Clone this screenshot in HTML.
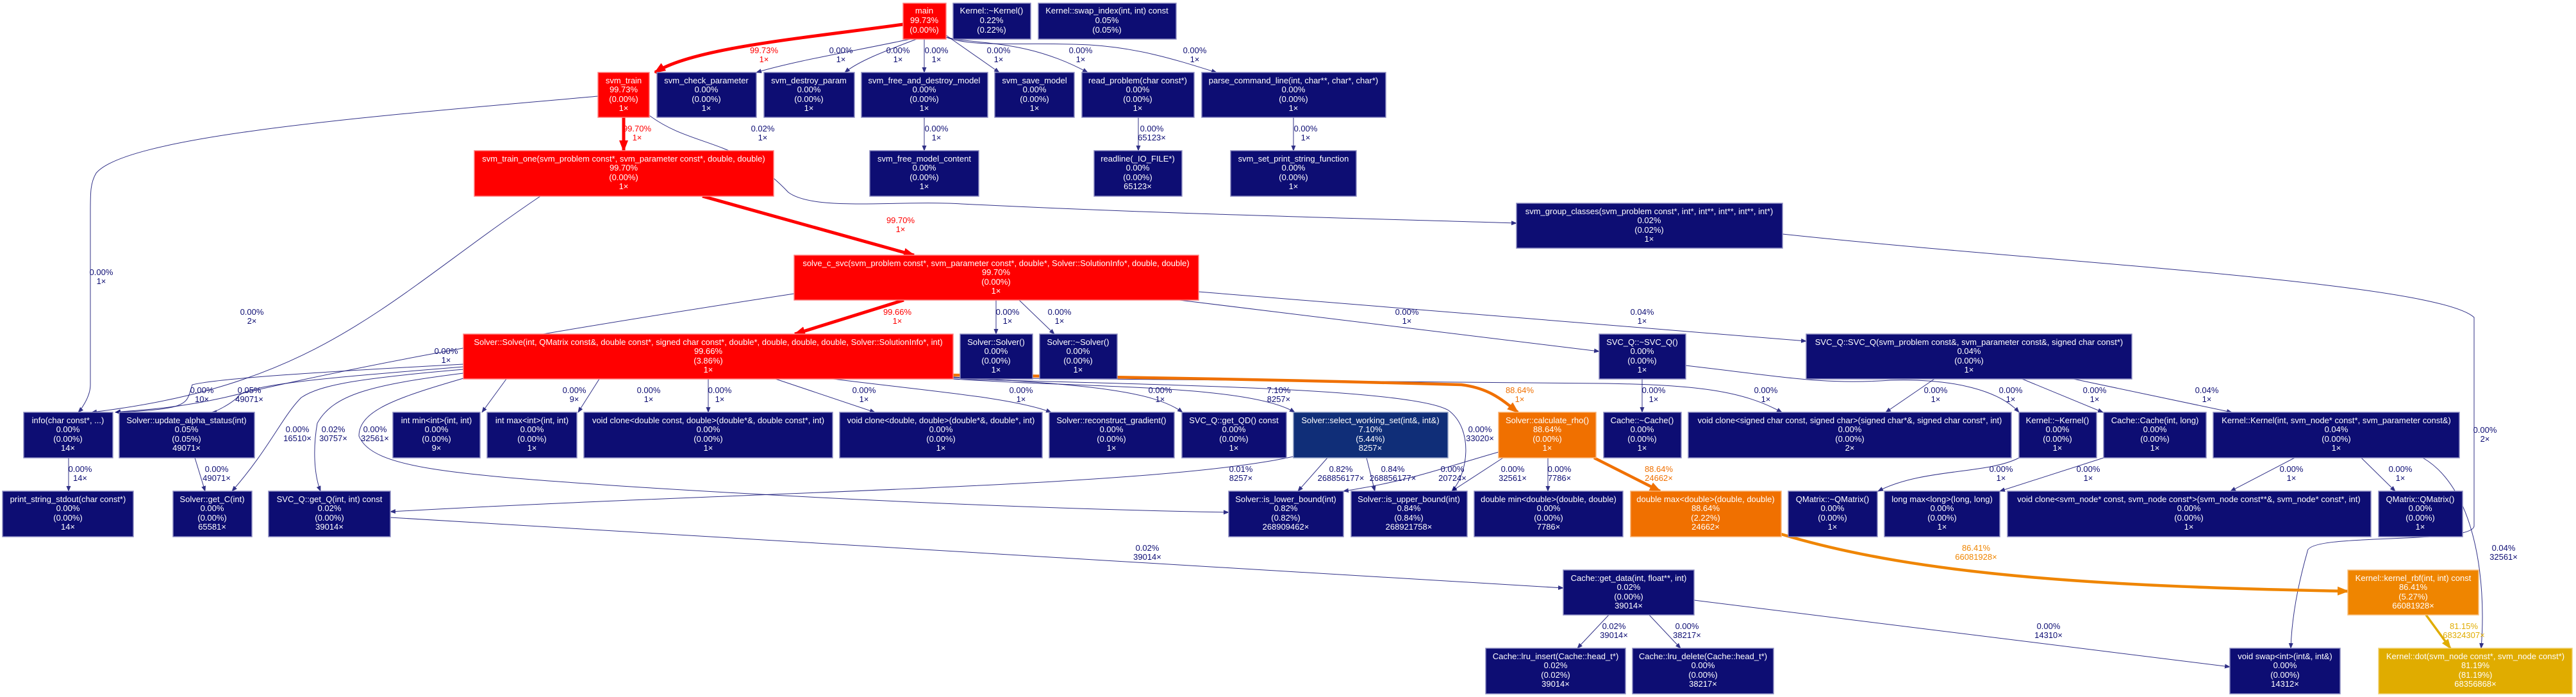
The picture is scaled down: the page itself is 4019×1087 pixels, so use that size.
<!DOCTYPE html>
<html><head><meta charset="utf-8"><style>
html,body{margin:0;padding:0;background:#fff;}
svg{display:block;}
text{font-family:"Liberation Sans",Arial,sans-serif;font-size:13px;}
.n text{fill:#fff;text-anchor:middle;}
.nv{fill:#0d0d73;stroke:#8a8ac0;stroke-width:1.5;}
.rd{fill:#ff0000;stroke:#ff8080;stroke-width:1.5;}
.or{fill:#f07000;stroke:#f8b070;stroke-width:1.5;}
.o2{fill:#ef8500;stroke:#f8c080;stroke-width:1.5;}
.ye{fill:#e0ac00;stroke:#f0d070;stroke-width:1.5;}
.sw{fill:#102e78;stroke:#8a9ac0;stroke-width:1.5;}
.e{fill:none;stroke:#0d0d73;stroke-width:1;opacity:.85;}
.er{fill:none;stroke:#ff0000;stroke-width:5;}
.eo{fill:none;stroke:#f07000;stroke-width:4.5;}
.eo2{fill:none;stroke:#ef8500;stroke-width:4.5;}
.ey{fill:none;stroke:#e0ac00;stroke-width:3.5;}
.l text{text-anchor:middle;fill:#0d0d73;}
.l .r{fill:#ff0000;} .l .o{fill:#f07000;} .l .o2t{fill:#ef8500;} .l .y{fill:#e0ac00;}
</style></head><body>
<svg width="4019" height="1087" viewBox="0 0 4019 1087" xmlns="http://www.w3.org/2000/svg">
<defs>
<marker id="an" markerUnits="userSpaceOnUse" markerWidth="9" markerHeight="7" refX="8" refY="3.5" orient="auto"><path d="M0,0 L9,3.5 L0,7 z" fill="#0d0d73"/></marker>
<marker id="ar" markerUnits="userSpaceOnUse" markerWidth="18" markerHeight="14" refX="16" refY="7" orient="auto"><path d="M0,0 L18,7 L0,14 z" fill="#ff0000"/></marker>
<marker id="ao" markerUnits="userSpaceOnUse" markerWidth="18" markerHeight="14" refX="16" refY="7" orient="auto"><path d="M0,0 L18,7 L0,14 z" fill="#f07000"/></marker>
<marker id="ao2" markerUnits="userSpaceOnUse" markerWidth="18" markerHeight="14" refX="16" refY="7" orient="auto"><path d="M0,0 L18,7 L0,14 z" fill="#ef8500"/></marker>
<marker id="ay" markerUnits="userSpaceOnUse" markerWidth="16" markerHeight="12" refX="14" refY="6" orient="auto"><path d="M0,0 L16,6 L0,12 z" fill="#e0ac00"/></marker>
</defs>

<!-- EDGES -->
<g>
<path class="er" marker-end="url(#ar)" d="M1409,38 C1250,60 1080,75 1022,113"/>
<path class="e" marker-end="url(#an)" d="M1420,61 C1330,80 1240,95 1180,113"/>
<path class="e" marker-end="url(#an)" d="M1430,61 C1380,80 1340,95 1318,113"/>
<path class="e" marker-end="url(#an)" d="M1442,61 L1442,113"/>
<path class="e" marker-end="url(#an)" d="M1476,55 L1559,113"/>
<path class="e" marker-end="url(#an)" d="M1476,58 C1520,70 1600,60 1697,113"/>
<path class="e" marker-end="url(#an)" d="M1476,58 C1520,75 1600,65 1700,70 C1780,75 1840,95 1898,113"/>
<path class="e" marker-end="url(#an)" d="M1442,183 L1442,235"/>
<path class="e" marker-end="url(#an)" d="M1776,183 L1776,235"/>
<path class="e" marker-end="url(#an)" d="M2018,183 L2018,235"/>
<path class="er" marker-end="url(#ar)" d="M973,183 L973,235"/>
<path class="e" marker-end="url(#an)" d="M933,150 C600,180 200,210 150,270 C141,285 141,300 141,330 L141,600 C141,620 125,640 122,643"/>
<path class="e" marker-end="url(#an)" d="M1013,180 C1080,230 1150,215 1230,300 C1270,330 1400,312 1500,318 C1800,333 2100,340 2366,348"/>
<path class="e" marker-end="url(#an)" d="M843,306 C600,470 500,600 143,643"/>
<path class="er" marker-end="url(#ar)" d="M1096,306 L1426,398"/>
<path class="er" marker-end="url(#ar)" d="M1410,468 L1240,521"/>
<path class="e" marker-end="url(#an)" d="M1239,458 C900,510 600,560 350,620 C260,640 200,640 180,643"/>
<path class="e" marker-end="url(#an)" d="M1554,468 L1554,521"/>
<path class="e" marker-end="url(#an)" d="M1590,468 L1645,521"/>
<path class="e" marker-end="url(#an)" d="M1840,468 L2495,548"/>
<path class="e" marker-end="url(#an)" d="M1870,455 L2818,532"/>
<path class="e" marker-end="url(#an)" d="M2781,365 C3200,410 3800,440 3860,495 L3860,820 C3860,850 3600,830 3600,860 C3580,930 3575,980 3574,1011"/>
<!-- Solve outputs -->
<path class="e" marker-end="url(#an)" d="M723,568 C500,580 340,590 300,600 C290,630 300,638 180,643"/>
<path class="e" marker-end="url(#an)" d="M723,572 C500,590 380,600 370,620 C360,630 335,643 330,643"/>
<path class="e" marker-end="url(#an)" d="M723,576 C560,590 500,600 470,620 C440,650 420,700 362,766"/>
<path class="e" marker-end="url(#an)" d="M723,582 C580,600 520,615 495,660 C488,700 490,740 500,766"/>
<path class="e" marker-end="url(#an)" d="M723,590 C620,620 560,640 560,680 C580,730 700,740 1000,760 C1400,785 1700,795 1917,799"/>
<path class="e" marker-end="url(#an)" d="M790,591 L752,643"/>
<path class="e" marker-end="url(#an)" d="M935,591 L902,643"/>
<path class="e" marker-end="url(#an)" d="M1105,591 L1105,643"/>
<path class="e" marker-end="url(#an)" d="M1210,591 L1365,643"/>
<path class="e" marker-end="url(#an)" d="M1300,591 C1450,610 1580,620 1640,643"/>
<path class="e" marker-end="url(#an)" d="M1487,588 C1700,600 1800,610 1845,643"/>
<path class="e" marker-end="url(#an)" d="M1487,591 C1700,605 1950,600 2020,643"/>
<path class="e" marker-end="url(#an)" d="M1487,591 C1800,600 2200,605 2260,640 C2300,670 2290,740 2265,766"/>
<path class="e" marker-end="url(#an)" d="M1487,589 C1900,593 2300,595 2500,598 C2650,600 2720,610 2780,643"/>
<path class="eo" marker-end="url(#ao)" d="M1487,585 C1800,588 2100,595 2280,600 C2320,605 2340,620 2368,643"/>
<path class="e" marker-end="url(#an)" d="M2562,591 L2562,643"/>
<path class="e" marker-end="url(#an)" d="M3018,591 L2942,643"/>
<path class="e" marker-end="url(#an)" d="M2630,570 C2800,590 2850,600 2950,593 C3050,590 3120,610 3150,643"/>
<path class="e" marker-end="url(#an)" d="M3155,591 L3281,643"/>
<path class="e" marker-end="url(#an)" d="M3235,591 L3482,643"/>
<path class="e" marker-end="url(#an)" d="M3150,714 C3100,740 3000,730 2930,766"/>
<path class="e" marker-end="url(#an)" d="M3282,714 L3120,766"/>
<path class="e" marker-end="url(#an)" d="M3580,714 L3480,766"/>
<path class="e" marker-end="url(#an)" d="M3684,714 L3737,766"/>
<path class="e" marker-end="url(#an)" d="M3780,714 C3860,760 3880,900 3871,1011"/>
<path class="eo2" marker-end="url(#ao2)" d="M2779,833 C3000,900 3300,915 3663,922"/>
<path class="ey" marker-end="url(#ay)" d="M3785,959 L3823,1011"/>
<path class="e" marker-end="url(#an)" d="M2643,936 L3479,1040"/>
<path class="e" marker-end="url(#an)" d="M2510,959 L2461,1011"/>
<path class="e" marker-end="url(#an)" d="M2573,959 L2622,1011"/>
<path class="e" marker-end="url(#an)" d="M2338,705 C2250,730 2200,750 2096,766"/>
<path class="e" marker-end="url(#an)" d="M2345,714 L2265,766"/>
<path class="e" marker-end="url(#an)" d="M2415,714 L2415,766"/>
<path class="eo" marker-end="url(#ao)" d="M2487,714 L2590,766"/>
<path class="e" marker-end="url(#an)" d="M2071,714 L2025,766"/>
<path class="e" marker-end="url(#an)" d="M2132,714 L2145,766"/>
<path class="e" marker-end="url(#an)" d="M2018,712 C1800,760 1200,765 609,798"/>
<path class="e" marker-end="url(#an)" d="M609,807 L2439,917"/>
<path class="e" marker-end="url(#an)" d="M304,714 L320,766"/>
<path class="e" marker-end="url(#an)" d="M107,714 L107,766"/>
</g>

<!-- EDGE LABELS -->
<g class="l">
<text class="r" x="1192" y="83">99.73%</text><text class="r" x="1192" y="97">1×</text>
<text x="1312" y="83">0.00%</text><text x="1312" y="97">1×</text>
<text x="1401" y="83">0.00%</text><text x="1401" y="97">1×</text>
<text x="1461" y="83">0.00%</text><text x="1461" y="97">1×</text>
<text x="1558" y="83">0.00%</text><text x="1558" y="97">1×</text>
<text x="1686" y="83">0.00%</text><text x="1686" y="97">1×</text>
<text x="1864" y="83">0.00%</text><text x="1864" y="97">1×</text>
<text class="r" x="994" y="205">99.70%</text><text class="r" x="994" y="219">1×</text>
<text x="1190" y="205">0.02%</text><text x="1190" y="219">1×</text>
<text x="1461" y="205">0.00%</text><text x="1461" y="219">1×</text>
<text x="1797" y="205">0.00%</text><text x="1797" y="219">65123×</text>
<text x="2037" y="205">0.00%</text><text x="2037" y="219">1×</text>
<text class="r" x="1405" y="348">99.70%</text><text class="r" x="1405" y="362">1×</text>
<text x="158" y="429">0.00%</text><text x="158" y="443">1×</text>
<text x="393" y="491">0.00%</text><text x="393" y="505">2×</text>
<text class="r" x="1400" y="491">99.66%</text><text class="r" x="1400" y="505">1×</text>
<text x="1572" y="491">0.00%</text><text x="1572" y="505">1×</text>
<text x="1653" y="491">0.00%</text><text x="1653" y="505">1×</text>
<text x="2195" y="491">0.00%</text><text x="2195" y="505">1×</text>
<text x="2562" y="491">0.04%</text><text x="2562" y="505">1×</text>
<text x="696" y="552">0.00%</text><text x="696" y="566">1×</text>
<text x="315" y="613">0.00%</text><text x="315" y="627">10×</text>
<text x="389" y="613">0.05%</text><text x="389" y="627">49071×</text>
<text x="896" y="613">0.00%</text><text x="896" y="627">9×</text>
<text x="1012" y="613">0.00%</text><text x="1012" y="627">1×</text>
<text x="1123" y="613">0.00%</text><text x="1123" y="627">1×</text>
<text x="1348" y="613">0.00%</text><text x="1348" y="627">1×</text>
<text x="1593" y="613">0.00%</text><text x="1593" y="627">1×</text>
<text x="1810" y="613">0.00%</text><text x="1810" y="627">1×</text>
<text x="1995" y="613">7.10%</text><text x="1995" y="627">8257×</text>
<text class="o" x="2371" y="613">88.64%</text><text class="o" x="2371" y="627">1×</text>
<text x="2580" y="613">0.00%</text><text x="2580" y="627">1×</text>
<text x="2755" y="613">0.00%</text><text x="2755" y="627">1×</text>
<text x="3020" y="613">0.00%</text><text x="3020" y="627">1×</text>
<text x="3137" y="613">0.00%</text><text x="3137" y="627">1×</text>
<text x="3268" y="613">0.00%</text><text x="3268" y="627">1×</text>
<text x="3443" y="613">0.04%</text><text x="3443" y="627">1×</text>
<text x="464" y="674">0.00%</text><text x="464" y="688">16510×</text>
<text x="520" y="674">0.02%</text><text x="520" y="688">30757×</text>
<text x="585" y="674">0.00%</text><text x="585" y="688">32561×</text>
<text x="2309" y="674">0.00%</text><text x="2309" y="688">33020×</text>
<text x="3877" y="675">0.00%</text><text x="3877" y="689">2×</text>
<text x="125" y="736">0.00%</text><text x="125" y="750">14×</text>
<text x="338" y="736">0.00%</text><text x="338" y="750">49071×</text>
<text x="1936" y="736">0.01%</text><text x="1936" y="750">8257×</text>
<text x="2092" y="736">0.82%</text><text x="2092" y="750">268856177×</text>
<text x="2173" y="736">0.84%</text><text x="2173" y="750">268856177×</text>
<text x="2266" y="736">0.00%</text><text x="2266" y="750">20724×</text>
<text x="2360" y="736">0.00%</text><text x="2360" y="750">32561×</text>
<text x="2433" y="736">0.00%</text><text x="2433" y="750">7786×</text>
<text class="o" x="2588" y="736">88.64%</text><text class="o" x="2588" y="750">24662×</text>
<text x="3122" y="736">0.00%</text><text x="3122" y="750">1×</text>
<text x="3258" y="736">0.00%</text><text x="3258" y="750">1×</text>
<text x="3575" y="736">0.00%</text><text x="3575" y="750">1×</text>
<text x="3745" y="736">0.00%</text><text x="3745" y="750">1×</text>
<text x="1790" y="859">0.02%</text><text x="1790" y="873">39014×</text>
<text class="o2t" x="3083" y="859">86.41%</text><text class="o2t" x="3083" y="873">66081928×</text>
<text x="3906" y="859">0.04%</text><text x="3906" y="873">32561×</text>
<text x="2518" y="981">0.02%</text><text x="2518" y="995">39014×</text>
<text x="2632" y="981">0.00%</text><text x="2632" y="995">38217×</text>
<text x="3196" y="981">0.00%</text><text x="3196" y="995">14310×</text>
<text class="y" x="3844" y="981">81.15%</text><text class="y" x="3844" y="995">68324307×</text>
</g>

<!-- NODES -->
<g class="n">
<rect class="rd" x="1409" y="5" width="67" height="56"/><text x="1442" y="21">main</text><text x="1442" y="36">99.73%</text><text x="1442" y="51">(0.00%)</text>
<rect class="nv" x="1487" y="5" width="121" height="56"/><text x="1547" y="21">Kernel::~Kernel()</text><text x="1547" y="36">0.22%</text><text x="1547" y="51">(0.22%)</text>
<rect class="nv" x="1620" y="5" width="215" height="56"/><text x="1727" y="21">Kernel::swap_index(int, int) const</text><text x="1727" y="36">0.05%</text><text x="1727" y="51">(0.05%)</text>

<rect class="rd" x="933" y="113" width="80" height="70"/><text x="973" y="130">svm_train</text><text x="973" y="144">99.73%</text><text x="973" y="159">(0.00%)</text><text x="973" y="173">1×</text>
<rect class="nv" x="1025" y="113" width="155" height="70"/><text x="1102" y="130">svm_check_parameter</text><text x="1102" y="144">0.00%</text><text x="1102" y="159">(0.00%)</text><text x="1102" y="173">1×</text>
<rect class="nv" x="1192" y="113" width="141" height="70"/><text x="1262" y="130">svm_destroy_param</text><text x="1262" y="144">0.00%</text><text x="1262" y="159">(0.00%)</text><text x="1262" y="173">1×</text>
<rect class="nv" x="1344" y="113" width="197" height="70"/><text x="1442" y="130">svm_free_and_destroy_model</text><text x="1442" y="144">0.00%</text><text x="1442" y="159">(0.00%)</text><text x="1442" y="173">1×</text>
<rect class="nv" x="1552" y="113" width="124" height="70"/><text x="1614" y="130">svm_save_model</text><text x="1614" y="144">0.00%</text><text x="1614" y="159">(0.00%)</text><text x="1614" y="173">1×</text>
<rect class="nv" x="1688" y="113" width="175" height="70"/><text x="1775" y="130">read_problem(char const*)</text><text x="1775" y="144">0.00%</text><text x="1775" y="159">(0.00%)</text><text x="1775" y="173">1×</text>
<rect class="nv" x="1875" y="113" width="287" height="70"/><text x="2018" y="130">parse_command_line(int, char**, char*, char*)</text><text x="2018" y="144">0.00%</text><text x="2018" y="159">(0.00%)</text><text x="2018" y="173">1×</text>

<rect class="rd" x="740" y="235" width="467" height="71"/><text x="973" y="252">svm_train_one(svm_problem const*, svm_parameter const*, double, double)</text><text x="973" y="266">99.70%</text><text x="973" y="281">(0.00%)</text><text x="973" y="295">1×</text>
<rect class="nv" x="1357" y="235" width="170" height="71"/><text x="1442" y="252">svm_free_model_content</text><text x="1442" y="266">0.00%</text><text x="1442" y="281">(0.00%)</text><text x="1442" y="295">1×</text>
<rect class="nv" x="1707" y="235" width="137" height="71"/><text x="1775" y="252">readline(_IO_FILE*)</text><text x="1775" y="266">0.00%</text><text x="1775" y="281">(0.00%)</text><text x="1775" y="295">65123×</text>
<rect class="nv" x="1920" y="235" width="196" height="71"/><text x="2018" y="252">svm_set_print_string_function</text><text x="2018" y="266">0.00%</text><text x="2018" y="281">(0.00%)</text><text x="2018" y="295">1×</text>

<rect class="nv" x="2366" y="317" width="415" height="70"/><text x="2573" y="334">svm_group_classes(svm_problem const*, int*, int**, int**, int**, int*)</text><text x="2573" y="348">0.02%</text><text x="2573" y="363">(0.02%)</text><text x="2573" y="377">1×</text>

<rect class="rd" x="1239" y="398" width="631" height="70"/><text x="1554" y="415">solve_c_svc(svm_problem const*, svm_parameter const*, double*, Solver::SolutionInfo*, double, double)</text><text x="1554" y="429">99.70%</text><text x="1554" y="444">(0.00%)</text><text x="1554" y="458">1×</text>

<rect class="rd" x="723" y="521" width="764" height="70"/><text x="1105" y="538">Solver::Solve(int, QMatrix const&amp;, double const*, signed char const*, double*, double, double, double, Solver::SolutionInfo*, int)</text><text x="1105" y="552">99.66%</text><text x="1105" y="567">(3.86%)</text><text x="1105" y="581">1×</text>
<rect class="nv" x="1498" y="521" width="113" height="70"/><text x="1554" y="538">Solver::Solver()</text><text x="1554" y="552">0.00%</text><text x="1554" y="567">(0.00%)</text><text x="1554" y="581">1×</text>
<rect class="nv" x="1622" y="521" width="121" height="70"/><text x="1682" y="538">Solver::~Solver()</text><text x="1682" y="552">0.00%</text><text x="1682" y="567">(0.00%)</text><text x="1682" y="581">1×</text>
<rect class="nv" x="2495" y="521" width="135" height="70"/><text x="2562" y="538">SVC_Q::~SVC_Q()</text><text x="2562" y="552">0.00%</text><text x="2562" y="567">(0.00%)</text><text x="2562" y="581">1×</text>
<rect class="nv" x="2818" y="521" width="508" height="70"/><text x="3072" y="538">SVC_Q::SVC_Q(svm_problem const&amp;, svm_parameter const&amp;, signed char const*)</text><text x="3072" y="552">0.04%</text><text x="3072" y="567">(0.00%)</text><text x="3072" y="581">1×</text>

<rect class="nv" x="37" y="643" width="139" height="71"/><text x="106" y="660">info(char const*, ...)</text><text x="106" y="674">0.00%</text><text x="106" y="689">(0.00%)</text><text x="106" y="703">14×</text>
<rect class="nv" x="186" y="643" width="211" height="71"/><text x="291" y="660">Solver::update_alpha_status(int)</text><text x="291" y="674">0.05%</text><text x="291" y="689">(0.05%)</text><text x="291" y="703">49071×</text>
<rect class="nv" x="613" y="643" width="136" height="71"/><text x="681" y="660">int min&lt;int&gt;(int, int)</text><text x="681" y="674">0.00%</text><text x="681" y="689">(0.00%)</text><text x="681" y="703">9×</text>
<rect class="nv" x="760" y="643" width="140" height="71"/><text x="830" y="660">int max&lt;int&gt;(int, int)</text><text x="830" y="674">0.00%</text><text x="830" y="689">(0.00%)</text><text x="830" y="703">1×</text>
<rect class="nv" x="911" y="643" width="388" height="71"/><text x="1105" y="660">void clone&lt;double const, double&gt;(double*&amp;, double const*, int)</text><text x="1105" y="674">0.00%</text><text x="1105" y="689">(0.00%)</text><text x="1105" y="703">1×</text>
<rect class="nv" x="1310" y="643" width="316" height="71"/><text x="1468" y="660">void clone&lt;double, double&gt;(double*&amp;, double*, int)</text><text x="1468" y="674">0.00%</text><text x="1468" y="689">(0.00%)</text><text x="1468" y="703">1×</text>
<rect class="nv" x="1637" y="643" width="195" height="71"/><text x="1734" y="660">Solver::reconstruct_gradient()</text><text x="1734" y="674">0.00%</text><text x="1734" y="689">(0.00%)</text><text x="1734" y="703">1×</text>
<rect class="nv" x="1844" y="643" width="163" height="71"/><text x="1925" y="660">SVC_Q::get_QD() const</text><text x="1925" y="674">0.00%</text><text x="1925" y="689">(0.00%)</text><text x="1925" y="703">1×</text>
<rect class="sw" x="2018" y="643" width="241" height="71"/><text x="2138" y="660">Solver::select_working_set(int&amp;, int&amp;)</text><text x="2138" y="674">7.10%</text><text x="2138" y="689">(5.44%)</text><text x="2138" y="703">8257×</text>
<rect class="or" x="2338" y="643" width="152" height="71"/><text x="2414" y="660">Solver::calculate_rho()</text><text x="2414" y="674">88.64%</text><text x="2414" y="689">(0.00%)</text><text x="2414" y="703">1×</text>
<rect class="nv" x="2502" y="643" width="121" height="71"/><text x="2562" y="660">Cache::~Cache()</text><text x="2562" y="674">0.00%</text><text x="2562" y="689">(0.00%)</text><text x="2562" y="703">1×</text>
<rect class="nv" x="2634" y="643" width="504" height="71"/><text x="2886" y="660">void clone&lt;signed char const, signed char&gt;(signed char*&amp;, signed char const*, int)</text><text x="2886" y="674">0.00%</text><text x="2886" y="689">(0.00%)</text><text x="2886" y="703">2×</text>
<rect class="nv" x="3150" y="643" width="121" height="71"/><text x="3210" y="660">Kernel::~Kernel()</text><text x="3210" y="674">0.00%</text><text x="3210" y="689">(0.00%)</text><text x="3210" y="703">1×</text>
<rect class="nv" x="3282" y="643" width="160" height="71"/><text x="3362" y="660">Cache::Cache(int, long)</text><text x="3362" y="674">0.00%</text><text x="3362" y="689">(0.00%)</text><text x="3362" y="703">1×</text>
<rect class="nv" x="3453" y="643" width="384" height="71"/><text x="3645" y="660">Kernel::Kernel(int, svm_node* const*, svm_parameter const&amp;)</text><text x="3645" y="674">0.04%</text><text x="3645" y="689">(0.00%)</text><text x="3645" y="703">1×</text>

<rect class="nv" x="4" y="766" width="204" height="71"/><text x="106" y="783">print_string_stdout(char const*)</text><text x="106" y="797">0.00%</text><text x="106" y="812">(0.00%)</text><text x="106" y="826">14×</text>
<rect class="nv" x="270" y="766" width="123" height="71"/><text x="331" y="783">Solver::get_C(int)</text><text x="331" y="797">0.00%</text><text x="331" y="812">(0.00%)</text><text x="331" y="826">65581×</text>
<rect class="nv" x="419" y="766" width="190" height="71"/><text x="514" y="783">SVC_Q::get_Q(int, int) const</text><text x="514" y="797">0.02%</text><text x="514" y="812">(0.00%)</text><text x="514" y="826">39014×</text>
<rect class="nv" x="1917" y="766" width="179" height="71"/><text x="2006" y="783">Solver::is_lower_bound(int)</text><text x="2006" y="797">0.82%</text><text x="2006" y="812">(0.82%)</text><text x="2006" y="826">268909462×</text>
<rect class="nv" x="2108" y="766" width="181" height="71"/><text x="2198" y="783">Solver::is_upper_bound(int)</text><text x="2198" y="797">0.84%</text><text x="2198" y="812">(0.84%)</text><text x="2198" y="826">268921758×</text>
<rect class="nv" x="2300" y="766" width="232" height="71"/><text x="2416" y="783">double min&lt;double&gt;(double, double)</text><text x="2416" y="797">0.00%</text><text x="2416" y="812">(0.00%)</text><text x="2416" y="826">7786×</text>
<rect class="or" x="2544" y="766" width="235" height="71"/><text x="2661" y="783">double max&lt;double&gt;(double, double)</text><text x="2661" y="797">88.64%</text><text x="2661" y="812">(2.22%)</text><text x="2661" y="826">24662×</text>
<rect class="nv" x="2790" y="766" width="139" height="71"/><text x="2859" y="783">QMatrix::~QMatrix()</text><text x="2859" y="797">0.00%</text><text x="2859" y="812">(0.00%)</text><text x="2859" y="826">1×</text>
<rect class="nv" x="2940" y="766" width="180" height="71"/><text x="3030" y="783">long max&lt;long&gt;(long, long)</text><text x="3030" y="797">0.00%</text><text x="3030" y="812">(0.00%)</text><text x="3030" y="826">1×</text>
<rect class="nv" x="3132" y="766" width="567" height="71"/><text x="3415" y="783">void clone&lt;svm_node* const, svm_node const*&gt;(svm_node const**&amp;, svm_node* const*, int)</text><text x="3415" y="797">0.00%</text><text x="3415" y="812">(0.00%)</text><text x="3415" y="826">1×</text>
<rect class="nv" x="3711" y="766" width="131" height="71"/><text x="3776" y="783">QMatrix::QMatrix()</text><text x="3776" y="797">0.00%</text><text x="3776" y="812">(0.00%)</text><text x="3776" y="826">1×</text>

<rect class="nv" x="2439" y="889" width="204" height="70"/><text x="2541" y="906">Cache::get_data(int, float**, int)</text><text x="2541" y="920">0.02%</text><text x="2541" y="935">(0.00%)</text><text x="2541" y="949">39014×</text>
<rect class="o2" x="3663" y="889" width="204" height="70"/><text x="3765" y="906">Kernel::kernel_rbf(int, int) const</text><text x="3765" y="920">86.41%</text><text x="3765" y="935">(5.27%)</text><text x="3765" y="949">66081928×</text>

<rect class="nv" x="2318" y="1011" width="218" height="71"/><text x="2427" y="1028">Cache::lru_insert(Cache::head_t*)</text><text x="2427" y="1042">0.02%</text><text x="2427" y="1057">(0.02%)</text><text x="2427" y="1071">39014×</text>
<rect class="nv" x="2547" y="1011" width="220" height="71"/><text x="2657" y="1028">Cache::lru_delete(Cache::head_t*)</text><text x="2657" y="1042">0.00%</text><text x="2657" y="1057">(0.00%)</text><text x="2657" y="1071">38217×</text>
<rect class="nv" x="3479" y="1011" width="172" height="71"/><text x="3565" y="1028">void swap&lt;int&gt;(int&amp;, int&amp;)</text><text x="3565" y="1042">0.00%</text><text x="3565" y="1057">(0.00%)</text><text x="3565" y="1071">14312×</text>
<rect class="ye" x="3711" y="1011" width="302" height="71"/><text x="3862" y="1028">Kernel::dot(svm_node const*, svm_node const*)</text><text x="3862" y="1042">81.19%</text><text x="3862" y="1057">(81.19%)</text><text x="3862" y="1071">68356868×</text>
</g>
</svg>
</body></html>
